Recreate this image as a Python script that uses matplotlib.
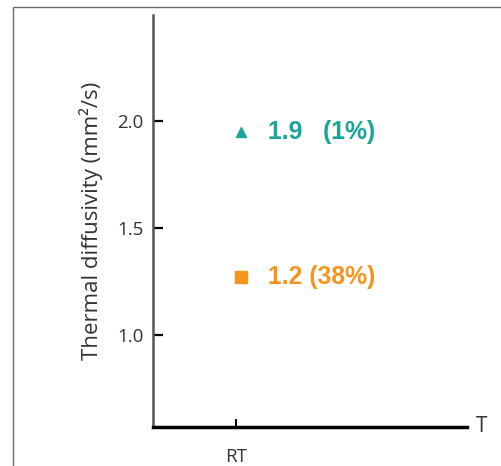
import numpy as np
import matplotlib
matplotlib.use("Agg")
import matplotlib.pyplot as plt
from matplotlib.patches import Rectangle
import matplotlib.transforms as mtransforms

# data
categories = ['RT']
values = [1.95, 1.27]
value_labels = ['1.9   (1%)', '1.2 (38%)']
markers = ['^', 's']
marker_sizes = [7, 8]
colors = ['#1aa59b', '#f7941d']
yticks = [1.0, 1.5, 2.0]

plt.rcParams['font.family'] = ['Open Sans', 'DejaVu Sans']

fig = plt.figure(figsize=(5.01, 4.66), dpi=100)
ax = fig.add_axes([153/501, 1-427/466, (467-153)/501, (427-15)/466])

# thin frame round the whole picture
fig.patches.append(Rectangle((13/501, -0.1), 1.2, 1-7/466+0.1, transform=fig.transFigure,
                             fill=False, edgecolor='#6b6b6b', linewidth=1.0))

xpos = np.arange(len(categories))
offset = mtransforms.ScaledTranslation(5/100, 0, fig.dpi_scale_trans)
for v, lab, m, ms, c in zip(values, value_labels, markers, marker_sizes, colors):
    ax.plot(xpos[0], v, marker=m, markersize=ms, color=c, linestyle='none',
            transform=ax.transData + offset)
    ax.annotate(lab, (xpos[0], v), xytext=(23, 0), textcoords='offset points',
                ha='left', va='center', color=c, fontsize=17.8, fontweight='bold',
                family=['Liberation Sans', 'DejaVu Sans'])

ax.set_xlim(-1, 2.77)
ax.set_ylim(0.57, 2.495)
ax.set_xticks(xpos)
ax.set_xticklabels(categories, fontsize=13.5, color='#333333')
ax.set_yticks(yticks)
ax.set_yticklabels(['1.0', '1.5', '2.0'], fontsize=13.5, color='#333333')
ax.set_ylabel('Thermal diffusivity (mm²/s)', fontsize=16, color='#333333', labelpad=10)

for s in ['top', 'right']:
    ax.spines[s].set_visible(False)
ax.spines['left'].set_color('#555555')
ax.spines['left'].set_linewidth(1.8)
ax.spines['bottom'].set_color('black')
ax.spines['bottom'].set_linewidth(2.5)

ax.tick_params(axis='y', direction='in', length=7, width=1.6, color='black', pad=7)
ax.tick_params(axis='x', direction='in', length=6, width=1.5, color='black', pad=15)
ax.text(1.045, 0, 'T', transform=ax.transAxes, ha='center', va='center',
        fontsize=15, color='#333333')

fig.savefig('out.png', dpi=100)
